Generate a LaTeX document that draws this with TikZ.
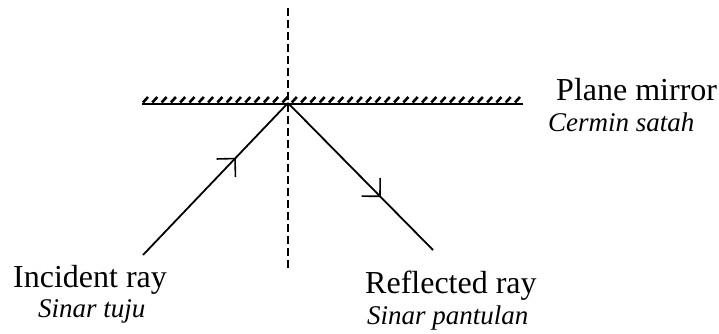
\documentclass[tikz,border=0pt]{standalone}
\usepackage{fontspec}
\setmainfont{Liberation Serif}
\usetikzlibrary{arrows.meta, decorations.markings}

\begin{document}
\begin{tikzpicture}[x=1pt, y=-1pt,
  ray/.style={line width=1.8pt, decoration={markings,
              mark=at position 0.64 with {\arrow{Straight Barb[length=13pt, width=26pt, line width=1.6pt]}}},
              postaction={decorate}},
  normal/.style={line width=1.5pt, dash pattern=on 8pt off 4pt},
  lbl/.style={anchor=base west, inner sep=0pt, font=\fontsize{32}{36}\selectfont},
  sub/.style={anchor=base west, inner sep=0pt, font=\fontsize{27}{30}\selectfont\itshape}]
  \useasboundingbox (0,0) rectangle (719,333);
  \coordinate (O) at (288,103);
  \coordinate (inc) at (143,255);
  \coordinate (refl) at (433,250);
  \coordinate (ntop) at (288,8);
  \coordinate (nbot) at (288,270);
  \coordinate (mL) at (142,104);
  \coordinate (mR) at (523,104);
  % mirror
  \draw[line width=2pt] (mL) -- (mR);
  \foreach \x in {143,152.3,...,518}{
    \draw[line width=2.6pt] (\x,102.5) -- (\x+5,97);}
  \draw[normal] (ntop) -- (nbot);
  \draw[ray] (inc) -- (O);
  \draw[ray] (O) -- (refl);
  \node[lbl] (pm) at (556,100) {Plane mirror};
  \node[sub] (cs) at (548,131) {Cermin satah};
  \node[lbl] (ir) at (13,287) {Incident ray};
  \node[sub] (st) at (38,317) {Sinar tuju};
  \node[lbl] (rr) at (365,293) {Reflected ray};
  \node[sub] (sp) at (367,324) {Sinar pantulan};
\end{tikzpicture}
\end{document}
